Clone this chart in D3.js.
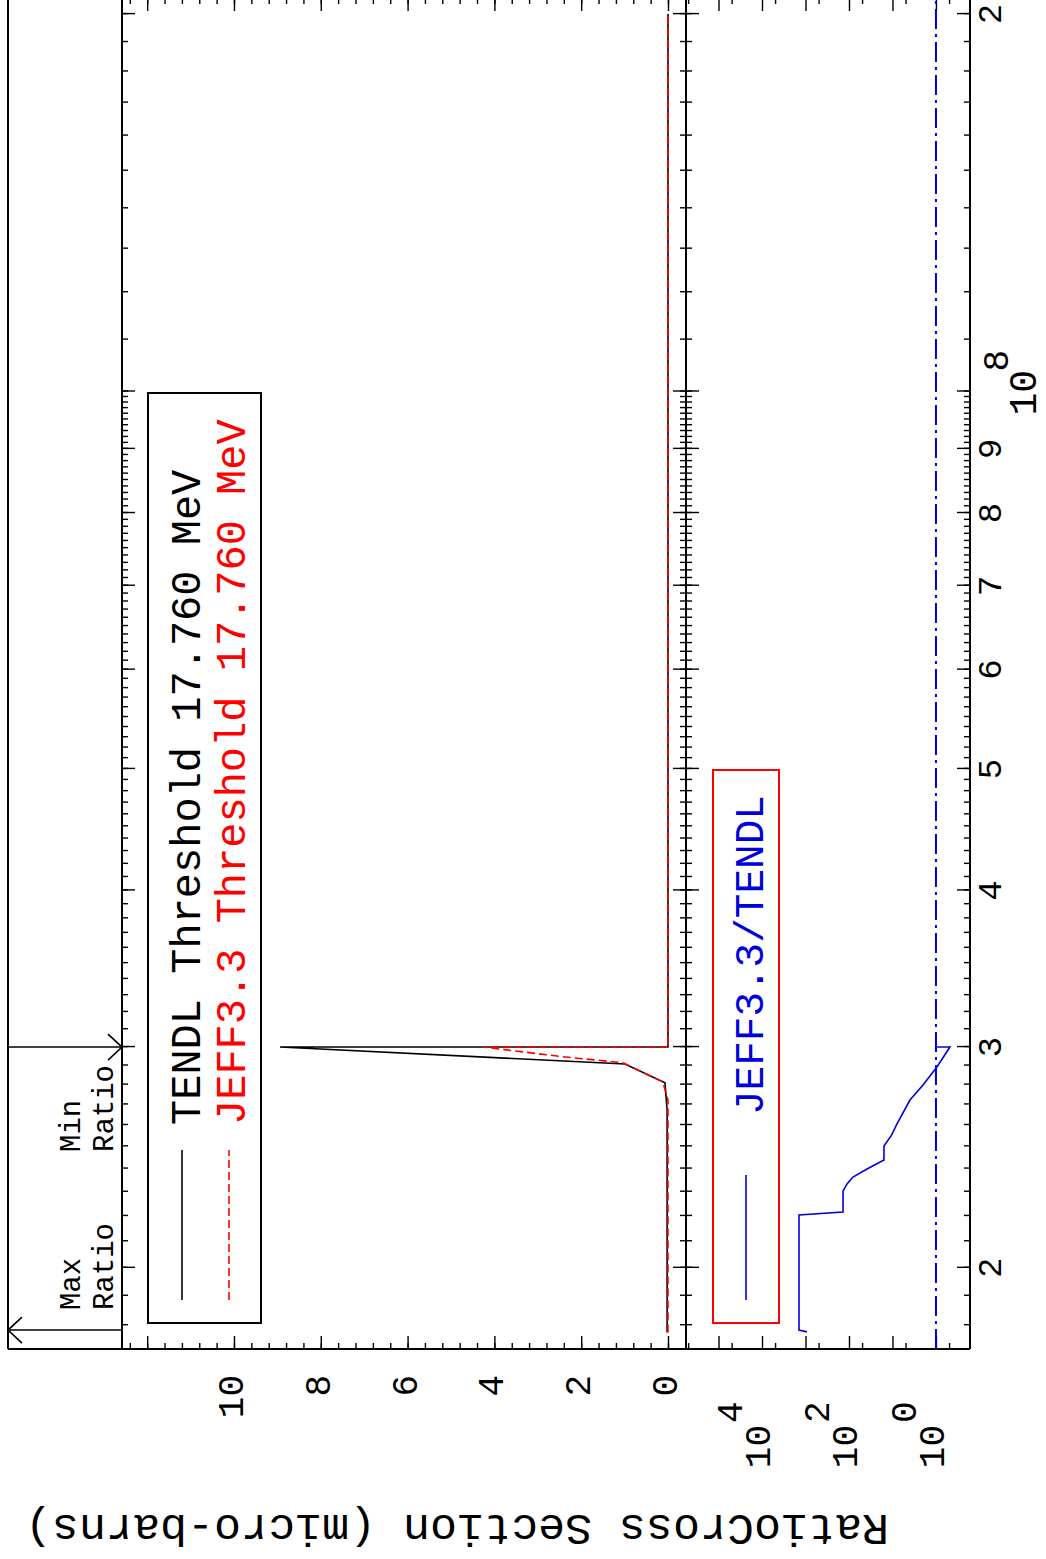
<!DOCTYPE html>
<html>
<head>
<meta charset="utf-8">
<script src="https://cdn.jsdelivr.net/npm/d3@7"></script>
<style>
  body { margin: 0; background: #fff; }
  svg { display: block; }
  text { font-family: "Liberation Mono", monospace; }
</style>
</head>
<body>
<script>
// data (energy in eV, cross section in micro-barns)
const tendlE  = [1.776e7, 2.673e7, 2.809e7, 2.908e7, 3.0e7, 3.0e7, 2.0e8];
const tendlXS = [0.02, 0.02, 0.07, 0.99, 8.94, 0.0, 0.0];

const jeffE  = [1.776e7, 2.722e7, 2.814e7, 2.915e7, 2.947e7, 3.0e7, 3.0e7, 2.0e8];
const jeffXS = [0.0, 0.0, 0.12, 1.04, 2.42, 4.26, 0.0, 0.0];

const ratioE   = [1.778e7, 1.784e7, 2.204e7, 2.216e7, 2.303e7, 2.333e7, 2.363e7, 2.398e7, 2.438e7,
                  2.501e7, 2.552e7, 2.605e7, 2.722e7, 2.798e7, 2.892e7, 3.0e7, 3.0e7];
const ratioVal = [925, 1410, 1410, 137, 137, 111, 81, 38.5, 15.7,
                  15.7, 10.5, 7.88, 3.96, 1.99, 0.95, 0.477, 1.0];

const energyLabels = [2e7, 3e7, 4e7, 5e7, 6e7, 7e7, 8e7, 9e7, 2e8];
const xsMajor = [0, 2, 4, 6, 8, 10, 12];
const ratioMajor = [1e0, 1e1, 1e2, 1e3, 1e4, 1e5];
const ratioLabels = [0, 2, 4];

const legendTop = ["TENDL Threshold 17.760 MeV", "JEFF3.3 Threshold 17.760 MeV"];
const legendBottom = "JEFF3.3/TENDL";

// page is a landscape plot turned on its side
const W = 1046, H = 1559;
const svg = d3.select("body").append("svg").attr("width", W).attr("height", H);
const g = svg.append("g").attr("transform", `translate(0,${H}) rotate(-90)`);

const xL = 210, xR = 1561;
const yAnn = 8, yTop = 122, yMid = 686, yBot = 970;

const x = d3.scaleLog().domain([1.723e7, 2.06e8]).range([xL, xR]);
const yXS = d3.scaleLinear().domain([-0.415, 12.58]).range([yMid, yTop]);
const yR = d3.scaleLog().domain([0.165, 5.59e5]).range([yBot, yMid]);

// tick values
const eMinor = [];
for (let v = 18; v <= 100; v++) eMinor.push(v * 1e6);
for (let v = 11; v <= 20; v++) eMinor.push(v * 1e7);
const eMajor = energyLabels.concat([1e8]);
const xsMinor = d3.range(-0.4, 12.6, 0.4);
const rMinor = ratioMajor.map(d => d * 5).concat([0.5]);

function axisGroup(axis, tx, ty) {
  const a = g.append("g").attr("transform", `translate(${tx},${ty})`).call(axis);
  a.select(".domain").remove();
  a.selectAll("line").attr("stroke", "#000").attr("stroke-width", 1.4);
  return a;
}

// energy ticks, inward on every horizontal edge
[[yTop, d3.axisTop], [yMid, d3.axisBottom], [yMid, d3.axisTop], [yBot, d3.axisBottom]].forEach(([yy, ax]) => {
  axisGroup(ax(x).tickValues(eMinor).tickSize(-6).tickFormat(""), 0, yy);
  axisGroup(ax(x).tickValues(eMajor).tickSize(-13).tickFormat(""), 0, yy);
});

// value ticks on left and right edges
const yAxisL = (s, v, len) => axisGroup(d3.axisLeft(s).tickValues(v).tickSize(-len).tickFormat(""), xL, 0);
const yAxisR = (s, v, len) => axisGroup(d3.axisRight(s).tickValues(v).tickSize(-len).tickFormat(""), xR, 0);
yAxisL(yXS, xsMinor, 6); yAxisL(yXS, xsMajor, 13);
yAxisR(yXS, xsMinor, 6); yAxisR(yXS, xsMajor, 13);
yAxisL(yR, rMinor, 6); yAxisL(yR, ratioMajor, 13);
yAxisR(yR, rMinor, 6); yAxisR(yR, ratioMajor, 13);

// frame
const frame = g.append("g").attr("stroke", "#000").attr("stroke-width", 2);
[yAnn, yTop, yMid, yBot].forEach(yy => frame.append("line").attr("x1", xL).attr("x2", xR).attr("y1", yy).attr("y2", yy));
frame.append("line").attr("x1", xL).attr("x2", xL).attr("y1", yAnn).attr("y2", yBot);
frame.append("line").attr("x1", xR).attr("x2", xR).attr("y1", yAnn).attr("y2", yBot);

// clips
g.append("clipPath").attr("id", "clipMain").append("rect")
  .attr("x", xL).attr("y", yTop).attr("width", xR - xL).attr("height", yMid - yTop);
g.append("clipPath").attr("id", "clipRatio").append("rect")
  .attr("x", xL).attr("y", yMid).attr("width", xR - xL).attr("height", yBot - yMid);

// ratio = 1 reference
g.append("line")
  .attr("x1", xL).attr("x2", xR).attr("y1", yR(1)).attr("y2", yR(1))
  .attr("stroke", "#0000dd").attr("stroke-width", 2).attr("stroke-dasharray", "20,5,3,5");

const lineXS = d3.line().x(d => x(d[0])).y(d => yXS(d[1]));
const lineR = d3.line().x(d => x(d[0])).y(d => yR(d[1]));

g.append("path").datum(d3.zip(tendlE, tendlXS)).attr("d", lineXS)
  .attr("clip-path", "url(#clipMain)").attr("fill", "none").attr("stroke", "#000").attr("stroke-width", 1.6);
g.append("path").datum(d3.zip(jeffE, jeffXS)).attr("d", lineXS)
  .attr("clip-path", "url(#clipMain)").attr("fill", "none").attr("stroke", "#ff0000")
  .attr("stroke-width", 1.6).attr("stroke-dasharray", "8,4");
g.append("path").datum(d3.zip(ratioE, ratioVal)).attr("d", lineR)
  .attr("clip-path", "url(#clipRatio)").attr("fill", "none").attr("stroke", "#0000dd").attr("stroke-width", 1.6);

// energy labels
energyLabels.forEach(v => {
  const m = v >= 1e8 ? v / 1e8 : v / 1e7;
  g.append("text").attr("x", x(v)).attr("y", 1001).attr("text-anchor", "middle")
    .attr("font-size", 34).text(m);
});
g.append("text").attr("x", x(1e8) - 24).attr("y", 1036).attr("font-size", 38).text("10");
g.append("text").attr("x", x(1e8) + 20).attr("y", 1008).attr("font-size", 36).text("8");

// cross section labels
xsMajor.filter(v => v <= 10).forEach(v => {
  g.append("text").attr("x", 184).attr("y", yXS(v) + 9).attr("text-anchor", "end")
    .attr("font-size", 36).text(v);
});
ratioLabels.forEach(p => {
  const yy = yR(Math.pow(10, p));
  g.append("text").attr("x", 134).attr("y", yy + 8).attr("text-anchor", "end")
    .attr("font-size", 36).text("10");
  g.append("text").attr("x", 136).attr("y", yy - 20).attr("font-size", 36).text(p);
});

// axis title
g.append("text").attr("transform", "translate(44,457) rotate(-90)").attr("text-anchor", "middle")
  .attr("font-size", 45).text("RatioCross Section (micro-barns)");

// max / min ratio markers
const iMax = d3.maxIndex(ratioVal), iMin = d3.minIndex(ratioVal);
const ann = g.append("g").attr("stroke", "#000").attr("stroke-width", 1.6).attr("fill", "none");
const xMax = x(ratioE[iMax]), xMin = x(ratioE[iMin]);
ann.append("line").attr("x1", xMax).attr("x2", xMax).attr("y1", yAnn).attr("y2", yTop);
ann.append("path").attr("d", `M${xMax - 13},${yAnn + 14}L${xMax},${yAnn}L${xMax + 13},${yAnn + 14}`);
ann.append("line").attr("x1", xMin).attr("x2", xMin).attr("y1", yAnn).attr("y2", yTop);
ann.append("path").attr("d", `M${xMin - 13},${yTop - 14}L${xMin},${yTop}L${xMin + 13},${yTop - 14}`);
[["Max", xMax + 20], ["Min", 407]].forEach(([t, xx]) => {
  g.append("text").attr("x", xx).attr("y", 80).attr("font-size", 29).text(t);
  g.append("text").attr("x", xx).attr("y", 113).attr("font-size", 29).text("Ratio");
});

// legend, top panel
g.append("rect").attr("x", 236).attr("y", 148).attr("width", 930).attr("height", 113)
  .attr("fill", "#fff").attr("stroke", "#000").attr("stroke-width", 2);
g.append("line").attr("x1", 259).attr("x2", 409).attr("y1", 182).attr("y2", 182)
  .attr("stroke", "#000").attr("stroke-width", 1.6);
g.append("line").attr("x1", 259).attr("x2", 409).attr("y1", 229).attr("y2", 229)
  .attr("stroke", "#ff0000").attr("stroke-width", 1.6).attr("stroke-dasharray", "8,4");
g.append("text").attr("x", 434).attr("y", 200).attr("font-size", 42).attr("fill", "#000").text(legendTop[0]);
g.append("text").attr("x", 434).attr("y", 245).attr("font-size", 42).attr("fill", "#ff0000").text(legendTop[1]);

// legend, ratio panel
g.append("rect").attr("x", 236).attr("y", 713).attr("width", 553).attr("height", 66)
  .attr("fill", "#fff").attr("stroke", "#ff0000").attr("stroke-width", 2);
g.append("line").attr("x1", 259).attr("x2", 384).attr("y1", 746).attr("y2", 746)
  .attr("stroke", "#0000dd").attr("stroke-width", 1.6);
g.append("text").attr("x", 444).attr("y", 763).attr("font-size", 41).attr("fill", "#0000dd").text(legendBottom);
</script>
</body>
</html>
